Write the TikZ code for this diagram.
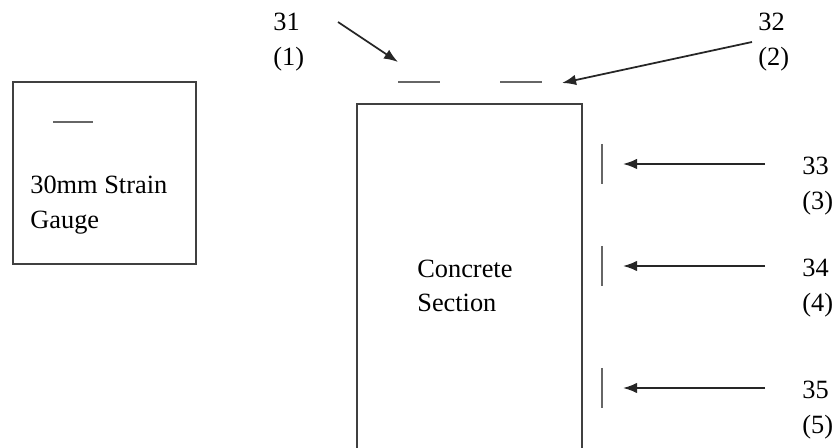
\documentclass[tikz,border=0pt]{standalone}
\usepackage{fontspec}
\setmainfont{Liberation Serif}
\usetikzlibrary{arrows.meta, positioning}

\begin{document}
\begin{tikzpicture}[x=0.02cm, y=-0.02cm, >={Latex[length=8pt,width=6pt]},
    font=\fontsize{15}{19.5}\selectfont]
    \tikzstyle{frame}=[draw=black!75, line width=1pt]
    \tikzstyle{gauge}=[draw=black!60, line width=1.3pt]
    \tikzstyle{pointer}=[->, draw=black!85, line width=1pt]
    \tikzstyle{annot}=[align=left, inner sep=0pt, anchor=west]

    \useasboundingbox (0,0) rectangle (837,448);

    % Legend box with one gauge
    \draw[frame] (13,82) rectangle (196,264);
    \draw[gauge] (53,122) -- (93,122);
    \node[annot] (legend) at (30,205) {30mm Strain\\Gauge};

    % Concrete section (runs off the bottom)
    \draw[frame] (357,460) -- (357,104) -- (582,104) -- (582,460);
    \node[annot] (section) at (417,286) {Concrete\\Section};

    % Gauges on top face
    \draw[gauge] (398,82) -- (440,82);
    \draw[gauge] (500,82) -- (542,82);
    \coordinate (G-1) at (398,62);
    \coordinate (G-2) at (562,83);
    \node[annot] (L-1) at (273,42) {31\\(1)};
    \node[annot] (L-2) at (758,42) {32\\(2)};
    \coordinate (S-1) at (338,22);
    \coordinate (S-2) at (752,42);
    \draw[pointer] (S-1) -- (G-1);
    \draw[pointer] (S-2) -- (G-2);

    % Gauges on side face
    \foreach \i / \y in {3/164, 4/266, 5/388}
    {
        \draw[gauge] (602,\y-20) -- (602,\y+20);
        \coordinate (G-\i) at (623,\y);
        \coordinate (S-\i) at (765,\y);
        \node[annot] (L-\i) at (802,\y+22) {3\i\\(\i)};
        \draw[pointer] (S-\i) -- (G-\i);
    }
\end{tikzpicture}
\end{document}
